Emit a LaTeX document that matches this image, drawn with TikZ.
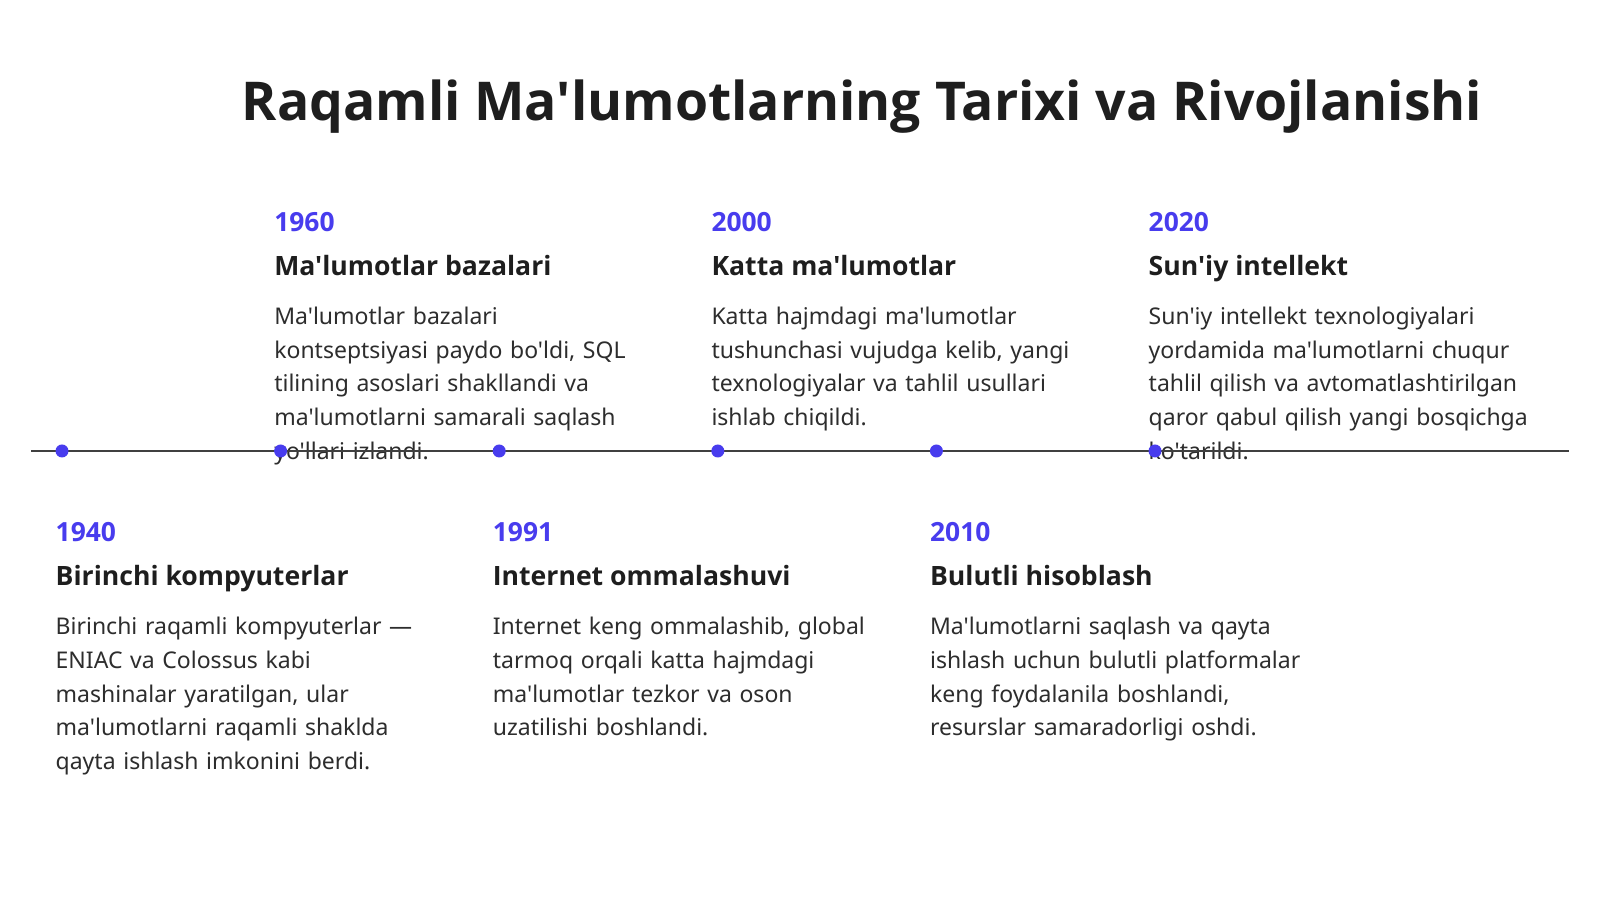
\documentclass[tikz,border=0pt]{standalone}
\usepackage{fontspec}
\setmainfont{Noto Sans}[Ligatures=TeXOff, BoldFont={Open Sans Bold}]
\usepackage{tikz}
\usetikzlibrary{positioning}
\definecolor{accent}{RGB}{72,60,238}
\definecolor{ink}{RGB}{30,30,30}
\definecolor{bodyink}{RGB}{45,45,45}
\tikzstyle{pole} = [circle, fill=accent, inner sep=0pt, minimum size=13pt]
\tikzstyle{yeartext} = [anchor=base west, inner sep=0pt, text=accent, font=\fontsize{26.4}{30}\selectfont\bfseries]
\tikzstyle{headtext} = [anchor=base west, inner sep=0pt, text=ink, font=\fontsize{26.6}{30}\selectfont\bfseries]
\tikzstyle{bodytext} = [anchor=base west, inner sep=0pt, text=bodyink, text width=440pt, align=left, font=\fontsize{23}{33.67}\selectfont]
\tikzstyle{line} = [line width=1.5pt, draw=ink!85]

\begin{document}
\begin{tikzpicture}[x=1pt,y=1pt]
\fill[white] (0,0) rectangle (1600,899);
\useasboundingbox (0,0) rectangle (1600,899);

\node (title) [anchor=base, inner sep=0pt, text=ink, font=\fontsize{53.5}{60}\selectfont\bfseries] at (862,778.6) {Raqamli Ma'lumotlarning Tarixi va Rivojlanishi};

\coordinate (tlstart) at (31,448);
\coordinate (tlend) at (1569,448);
\coordinate (p1) at (62,448);
\coordinate (p2) at (280.6,448);
\coordinate (p3) at (499.2,448);
\coordinate (p4) at (717.8,448);
\coordinate (p5) at (936.4,448);
\coordinate (p6) at (1155,448);

% lower row
\node (year1) [yeartext, xshift=-6.5pt, yshift=-90.8pt] at (p1) {1940};
\node (head1) [headtext, xshift=-6.5pt, yshift=-134.7pt] at (p1) {Birinchi kompyuterlar};
\node (text1) [bodytext, xshift=-6.5pt, yshift=-183.7pt] at (p1) {Birinchi raqamli kompyuterlar —\\ENIAC va Colossus kabi\\mashinalar yaratilgan, ular\\ma'lumotlarni raqamli shaklda\\qayta ishlash imkonini berdi.};

\node (year3) [yeartext, xshift=-6.5pt, yshift=-90.8pt] at (p3) {1991};
\node (head3) [headtext, xshift=-6.5pt, yshift=-134.7pt] at (p3) {Internet ommalashuvi};
\node (text3) [bodytext, xshift=-6.5pt, yshift=-183.7pt] at (p3) {Internet keng ommalashib, global\\tarmoq orqali katta hajmdagi\\ma'lumotlar tezkor va oson\\uzatilishi boshlandi.};

\node (year5) [yeartext, xshift=-6.5pt, yshift=-90.8pt] at (p5) {2010};
\node (head5) [headtext, xshift=-6.5pt, yshift=-134.7pt] at (p5) {Bulutli hisoblash};
\node (text5) [bodytext, xshift=-6.5pt, yshift=-183.7pt] at (p5) {Ma'lumotlarni saqlash va qayta\\ishlash uchun bulutli platformalar\\keng foydalanila boshlandi,\\resurslar samaradorligi oshdi.};

% upper row
\node (year2) [yeartext, xshift=-6.5pt, yshift=219.4pt] at (p2) {1960};
\node (head2) [headtext, xshift=-6.5pt, yshift=175.5pt] at (p2) {Ma'lumotlar bazalari};
\node (text2) [bodytext, xshift=-6.5pt, yshift=126.5pt] at (p2) {Ma'lumotlar bazalari\\kontseptsiyasi paydo bo'ldi, SQL\\tilining asoslari shakllandi va\\ma'lumotlarni samarali saqlash\\yo'llari izlandi.};

\node (year4) [yeartext, xshift=-6.5pt, yshift=219.4pt] at (p4) {2000};
\node (head4) [headtext, xshift=-6.5pt, yshift=175.5pt] at (p4) {Katta ma'lumotlar};
\node (text4) [bodytext, xshift=-6.5pt, yshift=126.5pt] at (p4) {Katta hajmdagi ma'lumotlar\\tushunchasi vujudga kelib, yangi\\texnologiyalar va tahlil usullari\\ishlab chiqildi.};

\node (year6) [yeartext, xshift=-6.5pt, yshift=219.4pt] at (p6) {2020};
\node (head6) [headtext, xshift=-6.5pt, yshift=175.5pt] at (p6) {Sun'iy intellekt};
\node (text6) [bodytext, xshift=-6.5pt, yshift=126.5pt] at (p6) {Sun'iy intellekt texnologiyalari\\yordamida ma'lumotlarni chuqur\\tahlil qilish va avtomatlashtirilgan\\qaror qabul qilish yangi bosqichga\\ko'tarildi.};

\draw [line] (tlstart) -- (tlend);

\node (pole1) [pole] at (p1) {};
\node (pole2) [pole] at (p2) {};
\node (pole3) [pole] at (p3) {};
\node (pole4) [pole] at (p4) {};
\node (pole5) [pole] at (p5) {};
\node (pole6) [pole] at (p6) {};
\end{tikzpicture}
\end{document}
